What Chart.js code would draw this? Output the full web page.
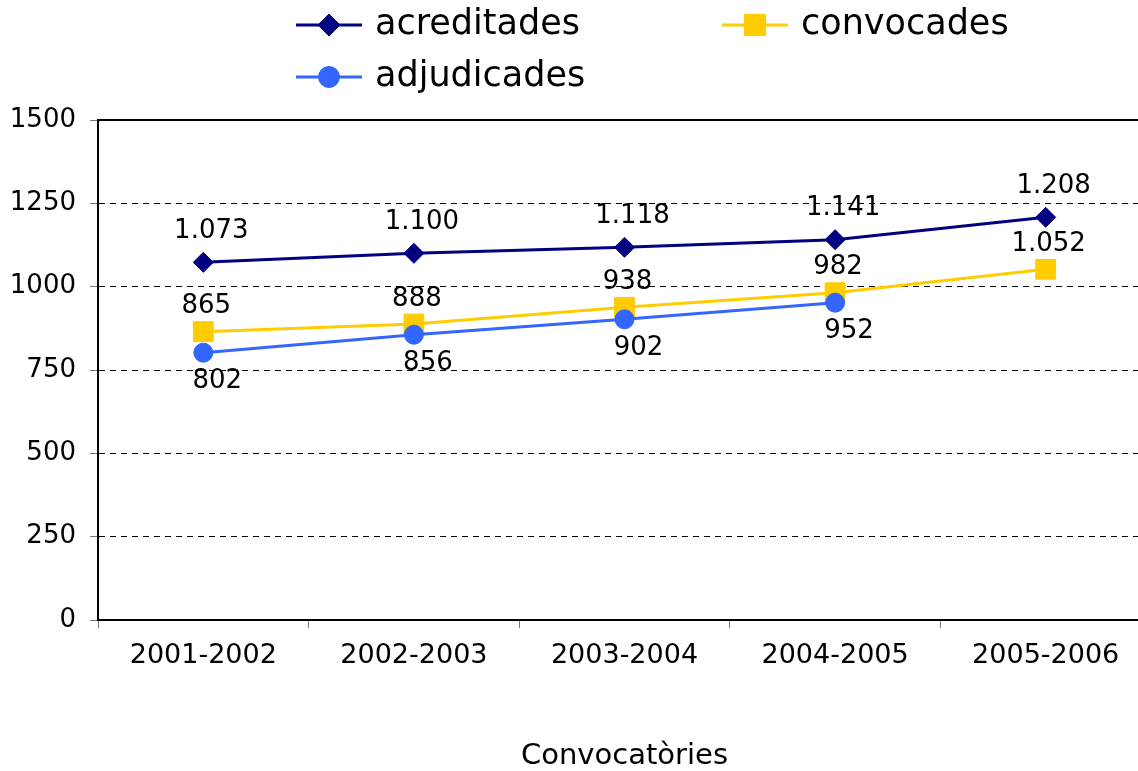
<!DOCTYPE html>
<html lang="ca">
<head>
    <meta charset="UTF-8">
    <title>Convocatòries</title>
    <script src="https://cdn.jsdelivr.net/npm/chart.js"></script>
    <style>
        html, body { margin: 0; padding: 0; background: #fff; overflow: hidden; }
        #wrap { width: 1138px; height: 771px; position: relative; }
    </style>
</head>
<body>
    <div id="wrap"><canvas id="chart"></canvas></div>
    <script>
        // Chart data
        const categories = ['2001-2002', '2002-2003', '2003-2004', '2004-2005', '2005-2006'];
        const acreditades = [1073, 1100, 1118, 1141, 1208];
        const convocades = [865, 888, 938, 982, 1052];
        const adjudicades = [802, 856, 902, 952, null];
        const yTicks = [0, 250, 500, 750, 1000, 1250, 1500];

        const FONT = "'DejaVu Sans', sans-serif";
        // in the original the plot area is cut off by the right edge of the picture
        const PLOT_RIGHT = 1151;

        // format with a dot as thousands separator (1.073)
        function fmt(v) {
            if (v < 1000) return String(v);
            return Math.floor(v / 1000) + '.' + String(v % 1000).padStart(3, '0');
        }

        // value labels next to each point
        const labelPlugin = {
            id: 'pointLabels',
            afterDatasetsDraw(chart) {
                const ctx = chart.ctx;
                ctx.save();
                ctx.font = '26px ' + FONT;
                ctx.fillStyle = '#000';
                ctx.textAlign = 'center';
                ctx.textBaseline = 'middle';
                chart.data.datasets.forEach((ds, i) => {
                    const meta = chart.getDatasetMeta(i);
                    meta.data.forEach((pt, j) => {
                        const v = ds.data[j];
                        if (v === null) return;
                        ctx.fillText(fmt(v), pt.x + ds.labelDx, pt.y + ds.labelDy);
                    });
                });
                ctx.restore();
            }
        };

        // stretch plot area, solid top border + custom two-column legend
        const framePlugin = {
            id: 'frame',
            afterLayout(chart) {
                const area = chart.chartArea;
                area.right = PLOT_RIGHT;
                area.width = area.right - area.left;
                const x = chart.scales.x;
                x.right = PLOT_RIGHT;
                x.width = x.right - x.left;
                x.configure();
            },
            beforeDatasetsDraw(chart) {
                const {ctx, chartArea} = chart;
                ctx.save();
                ctx.strokeStyle = '#000';
                ctx.lineWidth = 2;
                ctx.beginPath();
                ctx.moveTo(chartArea.left, chartArea.top);
                ctx.lineTo(chartArea.right, chartArea.top);
                ctx.stroke();
                ctx.restore();
            },
            afterDraw(chart) {
                const ctx = chart.ctx;
                const spots = [[296, 25], [722, 25], [296, 77]];
                ctx.save();
                chart.data.datasets.forEach((ds, i) => {
                    const [x, y] = spots[i];
                    ctx.strokeStyle = ds.borderColor;
                    ctx.lineWidth = 3;
                    ctx.beginPath();
                    ctx.moveTo(x, y);
                    ctx.lineTo(x + 66, y);
                    ctx.stroke();
                    ctx.fillStyle = ds.pointBackgroundColor;
                    ctx.strokeStyle = ds.pointBorderColor;
                    ctx.lineWidth = 1;
                    Chart.helpers.drawPoint(ctx, {
                        pointStyle: ds.pointStyle,
                        radius: ds.pointRadius + 1,
                        borderWidth: 1
                    }, x + 33, y);
                    ctx.fillStyle = '#000';
                    ctx.font = '35px ' + FONT;
                    ctx.textAlign = 'left';
                    ctx.textBaseline = 'middle';
                    ctx.fillText(ds.label, x + 79, y);
                });
                ctx.restore();
            }
        };

        function series(label, data, color, style, radius, order, dx, dy) {
            return {
                label: label,
                data: data,
                borderColor: color,
                backgroundColor: color,
                pointBackgroundColor: color,
                pointBorderColor: color,
                pointBorderWidth: 1,
                borderWidth: 3,
                pointStyle: style,
                pointRadius: radius,
                tension: 0,
                order: order,
                labelDx: dx,
                labelDy: dy
            };
        }

        new Chart(document.getElementById('chart'), {
            type: 'line',
            data: {
                labels: categories,
                datasets: [
                    series('acreditades', acreditades, '#000080', 'rectRot', 10, 2, 8, -31),
                    series('convocades', convocades, '#FFCC00', 'rect', 14, 1, 3, -25),
                    series('adjudicades', adjudicades, '#3366FF', 'circle', 9.5, 0, 14, 29)
                ]
            },
            options: {
                responsive: true,
                maintainAspectRatio: false,
                animation: false,
                layout: { padding: { top: 120, right: 0, left: 0, bottom: 0 } },
                plugins: {
                    legend: { display: false },
                    tooltip: { enabled: false }
                },
                scales: {
                    x: {
                        offset: true,
                        afterFit(scale) {
                            scale.height = 151;
                            scale.paddingLeft = 0;
                            scale.paddingRight = 0;
                        },
                        grid: {
                            offset: true,
                            drawOnChartArea: false,
                            tickLength: 8,
                            tickColor: '#777',
                            tickWidth: 1
                        },
                        border: { color: '#000', width: 2 },
                        ticks: {
                            color: '#000',
                            padding: 12,
                            maxRotation: 0,
                            font: { family: FONT, size: 27 }
                        },
                        title: {
                            display: true,
                            text: 'Convocatòries',
                            color: '#000',
                            padding: { top: 0, bottom: 0 },
                            font: { family: FONT, size: 29, lineHeight: 1 }
                        }
                    },
                    y: {
                        min: yTicks[0],
                        max: yTicks[yTicks.length - 1],
                        afterFit(scale) { scale.width = 98; },
                        afterBuildTicks(scale) { scale.ticks = yTicks.map(v => ({ value: v })); },
                        grid: {
                            color: '#000',
                            lineWidth: 1,
                            tickLength: 8,
                            tickColor: '#777',
                            tickWidth: 1
                        },
                        border: { color: '#000', width: 2, dash: [6, 5] },
                        ticks: {
                            color: '#000',
                            padding: 14,
                            font: { family: FONT, size: 26 },
                            callback: v => String(v)
                        }
                    }
                }
            },
            plugins: [framePlugin, labelPlugin]
        });
    </script>
</body>
</html>
